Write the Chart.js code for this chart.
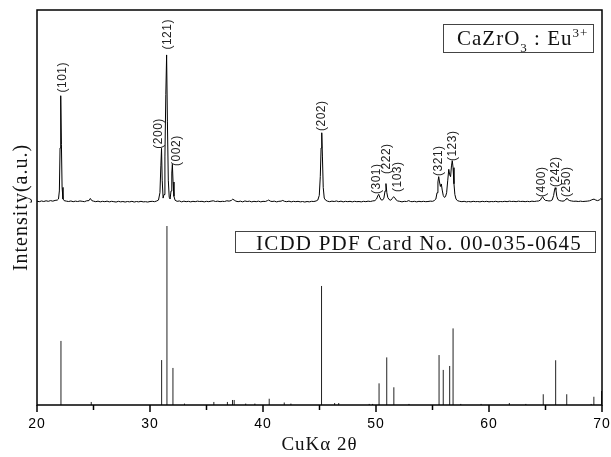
<!DOCTYPE html>
<html><head><meta charset="utf-8">
<script src="https://cdn.jsdelivr.net/npm/chart.js@4/dist/chart.umd.min.js"></script>
<style>html,body{margin:0;padding:0;background:#fff;}canvas{display:block;}</style>
</head><body>
<canvas id="c" width="611" height="457"></canvas>
<script>
// ---- data ----
const xTickValues = [20, 30, 40, 50, 60, 70];
// measured XRD pattern of CaZrO3:Eu3+ : [2theta, intensity above its baseline (a.u.)]
const measured = [
[20.0,0.3],[20.2,0.0],[20.4,0.4],[20.6,0.1],[20.8,0.5],[21.0,0.2],[21.2,0.6],[21.4,0.3],[21.6,0.7],[21.8,0.9],
[21.9,1.5],[21.98,6],[22.04,30],[22.1,59.2],[22.16,32],[22.22,8],[22.3,1.5],[22.4,0.6],[22.6,0.3],[22.8,0.1],
[23.0,0.4],[23.2,0.0],[23.4,0.3],[23.6,0.1],[23.8,0.4],[24.0,0.2],[24.2,0.0],[24.4,0.5],[24.6,0.6],[24.72,1.8],
[24.85,0.6],[25.0,0.3],[25.2,0.0],[25.4,0.3],[25.6,-0.1],[25.8,0.2],[26.0,0.0],[26.2,0.3],[26.4,-0.1],[26.6,0.2],
[26.8,0.0],[27.0,-0.2],[27.2,0.2],[27.4,-0.1],[27.6,0.1],[27.8,-0.2],[28.0,0.1],[28.2,-0.1],[28.4,0.2],[28.6,-0.2],
[28.8,0.1],[29.0,-0.1],[29.2,0.2],[29.4,-0.1],[29.6,0.0],[29.8,-0.2],[30.0,0.1],[30.2,0.2],[30.4,0.0],[30.6,0.4],
[30.75,0.9],[30.88,5],[30.96,20],[31.02,29.8],[31.08,12],[31.16,2.0],[31.24,4],[31.32,25],[31.4,60],[31.47,82.0],
[31.54,45],[31.62,12],[31.7,2.5],[31.78,1.5],[31.86,6],[31.93,16],[31.98,20.9],[32.04,11],[32.12,3],[32.22,0.8],
[32.4,0.2],[32.6,0.4],[32.8,-0.1],[33.0,0.3],[33.2,0.0],[33.4,0.2],[33.6,-0.1],[33.8,0.2],[34.0,0.0],[34.2,0.3],
[34.4,0.1],[34.6,0.2],[34.8,-0.1],[35.0,0.2],[35.2,0.0],[35.4,0.3],[35.6,0.5],[35.8,0.1],[36.0,0.3],[36.2,0.0],
[36.4,0.2],[36.6,0.1],[36.8,0.5],[37.0,0.3],[37.2,0.7],[37.32,1.4],[37.45,0.9],[37.6,0.3],[37.8,0.0],[38.0,0.3],
[38.2,-0.1],[38.4,0.4],[38.6,0.1],[38.8,0.3],[39.0,-0.1],[39.2,0.2],[39.4,0.0],[39.6,0.3],[39.8,-0.1],[40.0,0.2],
[40.2,0.1],[40.4,0.6],[40.5,0.9],[40.65,0.3],[40.8,0.1],[41.0,0.3],[41.2,-0.1],[41.4,0.2],[41.6,0.3],[41.75,0.7],
[41.9,0.2],[42.1,0.0],[42.3,0.3],[42.5,-0.1],[42.7,0.2],[42.9,0.0],[43.1,0.2],[43.3,-0.1],[43.5,0.1],[43.7,-0.2],
[43.9,0.1],[44.1,-0.1],[44.3,0.2],[44.5,0.1],[44.7,0.4],[44.85,0.9],[44.98,3.5],[45.07,14],[45.14,30],[45.2,38.5],
[45.26,25],[45.33,8],[45.42,2],[45.55,0.8],[45.7,0.3],[45.9,0.0],[46.1,0.3],[46.3,0.1],[46.5,0.4],[46.7,0.0],
[46.9,0.3],[47.1,-0.1],[47.3,0.2],[47.5,0.0],[47.7,0.2],[47.9,-0.1],[48.1,0.2],[48.3,0.0],[48.5,0.1],[48.7,-0.1],
[48.9,0.2],[49.1,0.0],[49.3,0.3],[49.5,0.1],[49.7,0.4],[49.9,0.6],[50.05,1.5],[50.16,3.3],[50.24,4.1],[50.34,2.4],
[50.46,1.0],[50.58,0.9],[50.7,2.0],[50.8,6],[50.88,10.1],[50.96,5],[51.04,2.4],[51.16,1.2],[51.3,0.8],[51.44,1.8],
[51.56,2.8],[51.66,2.2],[51.78,1.0],[51.92,0.4],[52.1,0.2],[52.3,-0.1],[52.5,0.2],[52.7,0.1],[52.9,0.6],[53.05,0.1],
[53.2,0.0],[53.4,0.2],[53.6,-0.1],[53.8,0.2],[54.0,0.0],[54.2,0.2],[54.4,0.0],[54.6,0.1],[54.8,0.3],[55.0,0.2],
[55.15,0.6],[55.3,1.5],[55.4,5],[55.48,11],[55.55,14.0],[55.62,11],[55.7,8.5],[55.78,9.9],[55.86,6.5],[55.95,3.5],
[56.05,2.4],[56.15,2.8],[56.25,5],[56.35,12],[56.44,18.1],[56.52,15],[56.6,14],[56.68,20],[56.75,22.9],[56.82,19],
[56.9,10],[56.98,4],[57.08,1.5],[57.2,0.6],[57.4,0.2],[57.6,0.0],[57.8,0.2],[58.0,-0.1],[58.2,0.1],[58.4,-0.1],
[58.6,0.2],[58.8,0.0],[59.0,0.1],[59.2,-0.1],[59.4,0.2],[59.6,0.0],[59.8,0.2],[60.0,-0.1],[60.2,0.1],[60.4,0.0],
[60.6,0.2],[60.8,-0.1],[61.0,0.1],[61.2,0.0],[61.4,0.2],[61.6,0.0],[61.8,0.3],[62.0,0.1],[62.2,0.2],[62.4,0.0],
[62.6,0.3],[62.8,0.1],[63.0,0.2],[63.2,0.0],[63.4,0.2],[63.6,0.0],[63.8,0.3],[64.0,0.1],[64.2,0.3],[64.4,0.4],
[64.55,0.9],[64.68,2.4],[64.75,2.8],[64.85,1.6],[65.0,0.7],[65.15,0.6],[65.3,0.4],[65.45,0.5],[65.6,1.0],[65.72,3.5],
[65.8,6.5],[65.86,7.8],[65.92,6.8],[66.0,3.0],[66.1,1.2],[66.25,0.6],[66.4,0.4],[66.55,0.3],[66.7,0.6],[66.82,1.5],
[66.9,1.9],[67.0,1.1],[67.15,0.6],[67.3,0.4],[67.5,0.2],[67.7,0.3],[67.9,0.1],[68.1,0.3],[68.3,0.1],[68.5,0.2],
[68.7,0.3],[68.9,0.5],[69.05,0.9],[69.2,1.3],[69.3,1.4],[69.45,0.9],[69.6,0.6],[69.75,0.9],[69.9,1.7],[70.0,1.2]
];
const measuredOffset = 113.6;   // vertical stacking offset of the measured pattern

// ICDD PDF card 00-035-0645 reference lines
const stickPos = [22.12,24.80,31.03,31.50,32.03,33.05,35.65,36.85,37.30,37.45,38.47,39.28,40.55,41.88,42.47,
  45.18,46.34,46.70,49.40,49.70,50.27,50.95,51.58,52.92,55.58,55.95,56.52,56.82,57.50,59.30,61.80,63.26,
  64.80,65.90,66.88,69.04,69.28,69.96];
const stickInt = [35.8,1.7,25.1,100,20.7,0.8,1.7,1.7,2.8,2.8,0.8,0.8,3.5,1.4,0.8,
  66.5,1.1,1.1,0.6,0.6,12.1,26.6,9.9,0.6,27.9,19.6,21.8,42.8,0.6,0.6,1.1,0.6,
  6.0,25.0,6.0,0.6,4.6,7.8];

// Miller-index labels: text, 2theta anchor, height of label start above the measured baseline
const peakLabels    = ['(101)','(200)','(121)','(002)','(202)','(301)','(222)','(103)','(321)','(123)','(400)','(242)','(250)'];
const peakLabelPos  = [22.25, 30.78, 31.55, 32.35, 45.19, 50.06, 50.95, 51.89, 55.52, 56.79, 64.68, 65.86, 66.89];
const peakLabelBase = [61.0, 29.6, 85.0, 20.0, 39.5, 4.3, 15.5, 5.4, 14.4, 22.7, 2.6, 8.2, 2.6];

const sampleLabel = ['CaZrO', '3', ' : Eu', '3+'];
const cardLabel = 'ICDD PDF Card No. 00-035-0645';
const xTitle = 'CuKα 2θ';
const yTitle = 'Intensity(a.u.)';

// ---- build datasets ----
const measuredData = measured.map(p => ({x: p[0], y: p[1] + measuredOffset}));
const stickData = [];
stickPos.forEach((x, i) => {
  stickData.push({x: x, y: 0}, {x: x, y: stickInt[i]}, {x: x, y: null});
});

const serif = "'Liberation Serif', 'Times New Roman', serif";
const sans = "'Liberation Sans', Arial, sans-serif";

const overlay = {
  id: 'overlay',
  beforeDraw(chart) { chart.ctx.letterSpacing = '1px'; },
  afterDraw(chart) {
    const ctx = chart.ctx, a = chart.chartArea, xs = chart.scales.x, ys = chart.scales.y;
    ctx.save();
    // frame
    ctx.strokeStyle = '#000'; ctx.lineWidth = 1.5;
    ctx.strokeRect(a.left, a.top, a.right - a.left, a.bottom - a.top);
    // x ticks (major every 10, minor every 5), outward
    for (let v = xs.min; v <= xs.max; v += 5) {
      const px = xs.getPixelForValue(v);
      const len = (v % 10 === 0) ? 7 : 5;
      ctx.beginPath(); ctx.moveTo(px, a.bottom); ctx.lineTo(px, a.bottom + len); ctx.stroke();
    }
    // peak labels
    ctx.fillStyle = '#222';
    ctx.font = '12px ' + sans;
    ctx.letterSpacing = '0.5px';
    ctx.textAlign = 'left'; ctx.textBaseline = 'middle';
    peakLabels.forEach((t, i) => {
      const px = xs.getPixelForValue(peakLabelPos[i]);
      const py = ys.getPixelForValue(peakLabelBase[i] + measuredOffset);
      ctx.save(); ctx.translate(px, py); ctx.rotate(-Math.PI / 2); ctx.fillText(t, 0, 0); ctx.restore();
    });
    // sample legend box
    ctx.strokeStyle = '#444'; ctx.lineWidth = 1;
    ctx.strokeRect(443.5, 24.5, 150, 28);
    ctx.fillStyle = '#111'; ctx.textBaseline = 'alphabetic'; ctx.letterSpacing = '1px';
    let x = 457;
    ctx.font = '21px ' + serif; ctx.fillText(sampleLabel[0], x, 45); x += ctx.measureText(sampleLabel[0]).width;
    ctx.font = '13px ' + serif; ctx.fillText(sampleLabel[1], x, 51.5); x += ctx.measureText(sampleLabel[1]).width;
    ctx.font = '21px ' + serif; ctx.fillText(sampleLabel[2], x, 45); x += ctx.measureText(sampleLabel[2]).width;
    ctx.font = '13px ' + serif; ctx.fillText(sampleLabel[3], x, 37);
    // card legend box
    ctx.strokeRect(235.5, 231.5, 360, 21);
    ctx.font = '21px ' + serif; ctx.textAlign = 'center'; ctx.letterSpacing = '1.2px';
    ctx.fillText(cardLabel, 419, 249.5);
    ctx.restore();
  }
};

new Chart(document.getElementById('c'), {
  type: 'line',
  data: {
    datasets: [
      {label: 'CaZrO3:Eu3+', data: measuredData, borderColor: '#000', borderWidth: 1, pointRadius: 0, tension: 0},
      {label: 'ICDD 00-035-0645', data: stickData, borderColor: '#222', borderWidth: 1, pointRadius: 0, tension: 0, spanGaps: false}
    ]
  },
  options: {
    responsive: false,
    animation: false,
    devicePixelRatio: 1,
    layout: {padding: {top: 10, right: 0, left: 0, bottom: 0}},
    plugins: {legend: {display: false}, tooltip: {enabled: false}},
    scales: {
      x: {
        type: 'linear', min: 20, max: 70,
        afterBuildTicks: s => { s.ticks = xTickValues.map(v => ({value: v})); },
        afterFit: s => { s.height = 52; s.paddingLeft = 0; s.paddingRight = 9; },
        grid: {display: false, drawTicks: false},
        border: {display: false},
        ticks: {padding: 11, color: '#000', font: {family: sans, size: 14}, maxRotation: 0},
        title: {display: true, text: xTitle, color: '#111', font: {family: serif, size: 19, lineHeight: 1.2}, padding: {top: 0, bottom: 1}}
      },
      y: {
        min: 0, max: 220.7,
        afterFit: s => { s.width = 37; },
        grid: {display: false, drawTicks: false},
        border: {display: false},
        ticks: {display: false},
        title: {display: true, text: yTitle, color: '#111', font: {family: serif, size: 20, lineHeight: 1.2}, padding: {top: 10, bottom: 0}}
      }
    }
  },
  plugins: [overlay]
});
</script>
</body></html>
